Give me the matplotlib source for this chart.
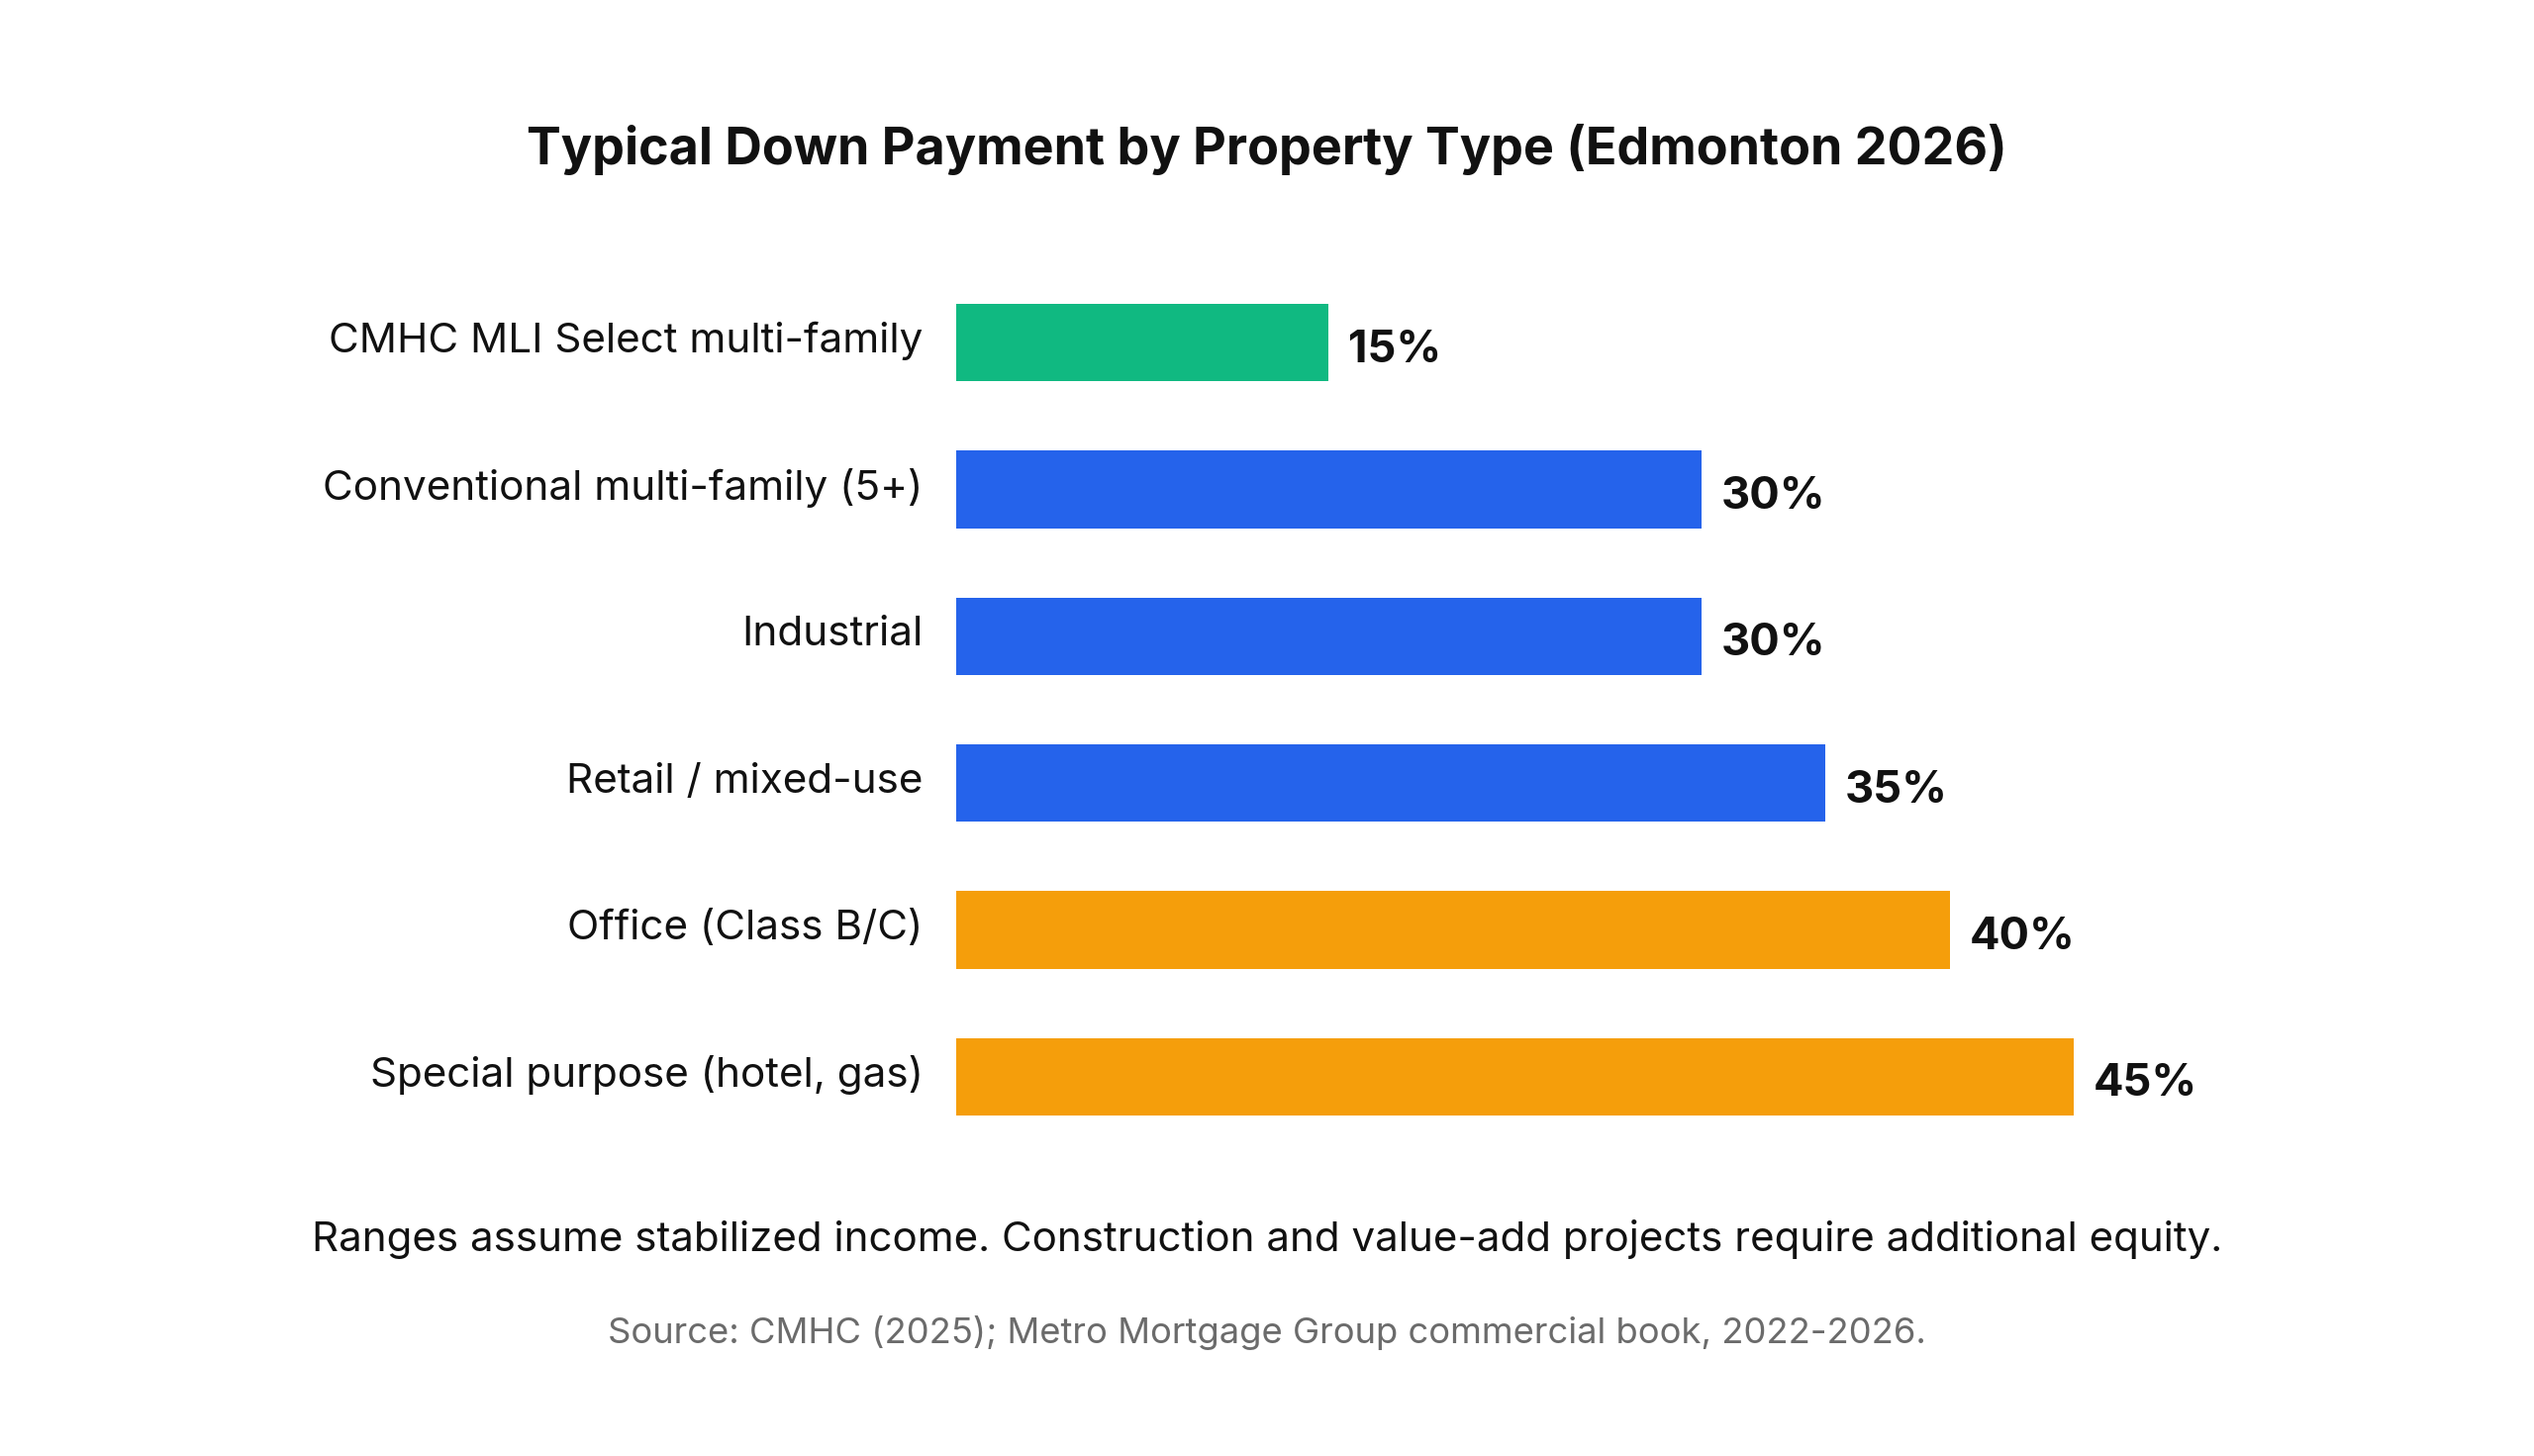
import matplotlib.pyplot as plt
import matplotlib.transforms as mtransforms

plt.rcParams['font.family'] = ['Inter', 'DejaVu Sans']

# Data
categories = ["CMHC MLI Select multi-family", "Conventional multi-family (5+)", "Industrial",
              "Retail / mixed-use", "Office (Class B/C)", "Special purpose (hotel, gas)"]
down_payment = [15, 30, 30, 35, 40, 45]
bar_colors = ["#10B981", "#2563EB", "#2563EB", "#2563EB", "#F59E0B", "#F59E0B"]

title = "Typical Down Payment by Property Type (Edmonton 2026)"
note = "Ranges assume stabilized income. Construction and value-add projects require additional equity."
source = "Source: CMHC (2025); Metro Mortgage Group commercial book, 2022-2026."

W, H = 2560, 1471
fig = plt.figure(figsize=(W / 100, H / 100), dpi=100)

# axes placed in pixel terms
x0, x1 = 966, 2400
y_top, y_bot = 272, 1162
ax = fig.add_axes([x0 / W, 1 - y_bot / H, (x1 - x0) / W, (y_bot - y_top) / H])

px_per_pct = (2095 - 966) / 45
ax.set_xlim(0, (x1 - x0) / px_per_pct)

ypos = list(range(len(categories)))
ax.barh(ypos, down_payment, height=0.53, color=bar_colors)
ax.set_ylim(len(categories) - 0.5, -0.5)

ax.set_yticks(ypos)
ax.set_yticklabels(categories, fontsize=30.4, color="#111111")
ax.tick_params(axis='y', length=0, pad=24)
ax.set_xticks([])
for s in ax.spines.values():
    s.set_visible(False)

# nudge category labels up a little
shift = mtransforms.ScaledTranslation(0, 4 / 72, fig.dpi_scale_trans)
for lbl in ax.get_yticklabels():
    lbl.set_transform(lbl.get_transform() + shift)

for y, v in zip(ypos, down_payment):
    ax.text(v + 0.8, y + 0.05, f"{v}%", va='center', ha='left', fontsize=32.5,
            fontweight='bold', color="#111111")

fig.text(0.5, 1 - 151 / H, title, ha='center', va='center', fontsize=37.5,
         fontweight='bold', color="#111111")
fig.text(0.5, 1 - 1252 / H, note, ha='center', va='center', fontsize=30.3, color="#111111")
fig.text(0.5, 1 - 1346 / H, source, ha='center', va='center', fontsize=26.2, color="#6B6B6B")

fig.savefig("out.png", dpi=100, facecolor="white")
